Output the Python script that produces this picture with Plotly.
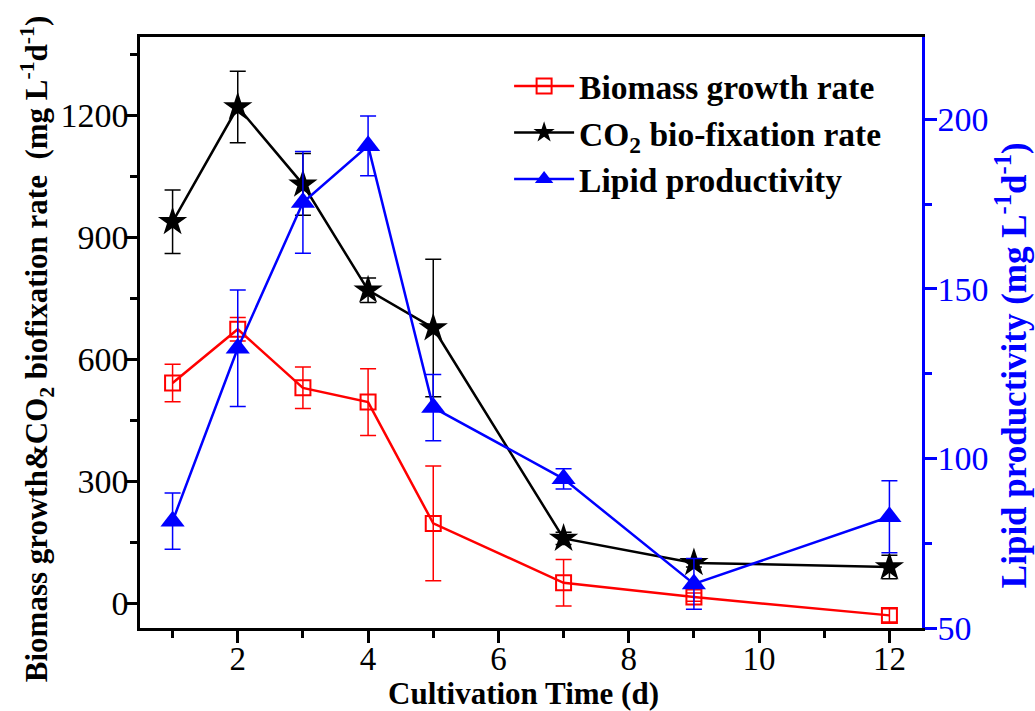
import plotly.graph_objects as go

days = [1, 2, 3, 4, 5, 7, 9, 12]

biomass = [542, 674, 530, 495, 197, 51, 16, -29]
biomass_err = [46, 29, 51, 82, 141, 57, 10, 16]

co2 = [938, 1220, 1030, 770, 677, 160, 100, 90]
co2_err = [78, 88, 76, 30, 169, 15, 10, 29]

lipid = [81.5, 132.5, 175.5, 192.2, 115, 94, 63, 82.8]
lipid_err = [8.3, 17.2, 15, 8.8, 9.8, 3, 7.5, 10.6]

x_ticks = [2, 4, 6, 8, 10, 12]
left_ticks = [0, 300, 600, 900, 1200]
right_ticks = [50, 100, 150, 200]

FONT = "Liberation Serif"
RED = "#ff0000"
BLUE = "#0000ff"

fig = go.Figure()

fig.add_trace(go.Scatter(
    x=days, y=biomass, name="Biomass growth rate", mode="lines+markers",
    line=dict(color=RED, width=2.5),
    marker=dict(symbol="square-open", size=15, color=RED, line=dict(width=2, color=RED)),
    error_y=dict(type="data", array=biomass_err, color=RED, thickness=1.5, width=8),
))
fig.add_trace(go.Scatter(
    x=days, y=co2, name="CO<sub>2</sub> bio-fixation rate", mode="lines+markers",
    line=dict(color="black", width=2.5),
    marker=dict(symbol="star", size=22, color="black"),
    error_y=dict(type="data", array=co2_err, color="black", thickness=1.5, width=8),
))
fig.add_trace(go.Scatter(
    x=days, y=lipid, name="Lipid productivity", mode="lines+markers", yaxis="y2",
    line=dict(color=BLUE, width=2.5),
    marker=dict(symbol="triangle-up", size=21, color=BLUE),
    error_y=dict(type="data", array=lipid_err, color=BLUE, thickness=1.5, width=8),
))

fig.update_layout(
    width=1035, height=711,
    margin=dict(l=140, r=113, t=37, b=83, autoexpand=False),
    paper_bgcolor="white", plot_bgcolor="white",
    font=dict(family=FONT, size=30, color="black"),
    showlegend=True,
    legend=dict(
        x=0.472, y=0.965, xanchor="left", yanchor="top",
        bgcolor="rgba(0,0,0,0)", borderwidth=0,
        font=dict(family=FONT, size=33.5, color="black", weight="bold"),
        itemwidth=60, tracegroupgap=0,
    ),
    xaxis=dict(
        range=[0.5, 12.5], tickvals=x_ticks, ticktext=[str(v) for v in x_ticks],
        showline=True, linecolor="black", linewidth=2.5, mirror=True,
        ticks="outside", ticklen=12, tickwidth=2.5, tickcolor="black",
        minor=dict(tickvals=[1, 3, 5, 7, 9, 11], ticks="outside", ticklen=7, tickwidth=2.5, tickcolor="black"),
        showgrid=False, zeroline=False, ticklabelstandoff=-12,
        tickfont=dict(family=FONT, size=33, color="black"),
    ),
    yaxis=dict(
        range=[-60, 1392], tickvals=left_ticks, ticktext=[str(v) for v in left_ticks],
        showline=True, linecolor="black", linewidth=2.5, mirror=False,
        ticks="outside", ticklen=12, tickwidth=2.5, tickcolor="black",
        minor=dict(tickvals=[150, 450, 750, 1050, 1350], ticks="outside", ticklen=7, tickwidth=2.5, tickcolor="black"),
        showgrid=False, zeroline=False, ticklabelstandoff=-10,
        tickfont=dict(family=FONT, size=34, color="black"),
    ),
    yaxis2=dict(
        overlaying="y", side="right",
        range=[50, 224.3], tickvals=right_ticks, ticktext=[str(v) for v in right_ticks],
        showline=True, linecolor=BLUE, linewidth=2.5,
        ticks="outside", ticklen=12, tickwidth=2.5, tickcolor=BLUE,
        minor=dict(tickvals=[75, 125, 175], ticks="outside", ticklen=7, tickwidth=2.5, tickcolor=BLUE),
        showgrid=False, zeroline=False, ticklabelstandoff=-6,
        tickfont=dict(family=FONT, size=34, color=BLUE),
    ),
    annotations=[
        dict(text="<b>Cultivation Time (d)</b>", xref="paper", yref="paper",
             x=0.49, y=-0.111, xanchor="center", yanchor="middle", showarrow=False,
             font=dict(family=FONT, size=31, color="black")),
        dict(text="<b>Biomass growth&CO<sub>2</sub> biofixation rate  (mg L<sup>-1</sup>d<sup>-1</sup>)</b>",
             xref="paper", yref="paper", x=-0.1315, y=0.472, xanchor="center", yanchor="middle",
             textangle=-90, showarrow=False, font=dict(family=FONT, size=31, color="black")),
        dict(text="<b>Lipid productivity (mg L<sup>-1</sup>d<sup>-1</sup>)</b>",
             xref="paper", yref="paper", x=1.114, y=0.445, xanchor="center", yanchor="middle",
             textangle=-90, showarrow=False, font=dict(family=FONT, size=35, color=BLUE)),
    ],
)

fig.write_html("out.html", config={"displayModeBar": False},
               post_script="document.body.style.margin='0';document.body.style.overflow='hidden';")
